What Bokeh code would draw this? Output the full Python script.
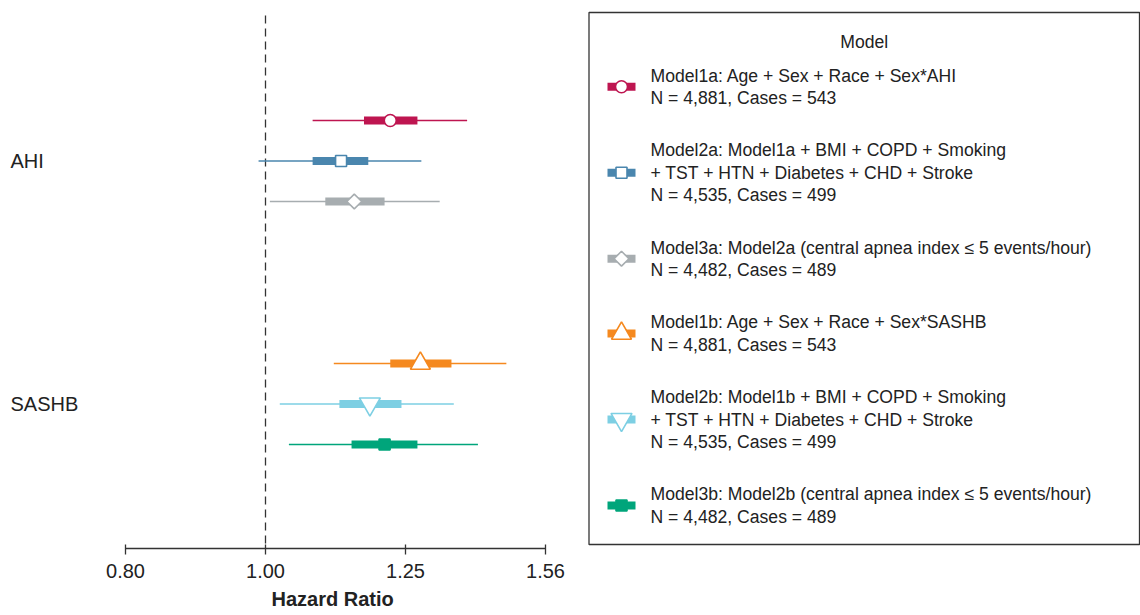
import numpy as np
from bokeh.plotting import figure
from bokeh.layouts import row
from bokeh.models import Range1d, FixedTicker, NumeralTickFormatter, ColumnDataSource, Label, Title
from bokeh.embed import file_html
from bokeh.resources import INLINE
from bokeh.core.properties import value

# ---------------- data ----------------
models = ["Model1a", "Model2a", "Model3a", "Model1b", "Model2b", "Model3b"]
exposures = ["AHI", "SASHB"]
model_exposure = ["AHI", "AHI", "AHI", "SASHB", "SASHB", "SASHB"]
hr = [1.220, 1.128, 1.152, 1.280, 1.181, 1.209]
lo95 = [1.078, 0.989, 1.007, 1.115, 1.023, 1.038]
hi95 = [1.379, 1.282, 1.320, 1.468, 1.350, 1.403]
lo50 = [1.170, 1.078, 1.100, 1.220, 1.125, 1.147]
hi50 = [1.274, 1.178, 1.209, 1.345, 1.242, 1.274]
n_obs = ["4,881", "4,535", "4,482", "4,881", "4,535", "4,482"]
n_cases = [543, 499, 489, 543, 499, 489]
covariate_lines = [
    ["Age + Sex + Race + Sex*AHI"],
    ["Model1a + BMI + COPD + Smoking", "+ TST + HTN + Diabetes + CHD + Stroke"],
    ["Model2a (central apnea index \u2264 5 events/hour)"],
    ["Age + Sex + Race + Sex*SASHB"],
    ["Model1b + BMI + COPD + Smoking", "+ TST + HTN + Diabetes + CHD + Stroke"],
    ["Model2b (central apnea index \u2264 5 events/hour)"],
]
x_ticks = [0.80, 1.00, 1.25, 1.5625]
null_hr = 1.0

# ---------------- styles ----------------
colors = ["#BE1550", "#4A86AE", "#A7ADB0", "#F5891F", "#7DCFE3", "#00A57B"]
marker_types = ["circle", "square", "square", "triangle", "inverted_triangle", "square"]
marker_angles = [0, 0, np.pi / 4, 0, 0, 0]
marker_fills = ["white", "white", "white", "white", "white", "#00A57B"]
marker_sizes = [12, 11, 10.5, 20, 21, 11]
TEXT = "#222222"
FONT = "Liberation Sans"

# rows: 3 per exposure, groups separated by blank rows
within = {}
rows = []
for e in model_exposure:
    k = within.get(e, 0)
    within[e] = k + 1
    rows.append(exposures.index(e) * 6 + k)
group_rows = [exposures.index(e) * 6 + 1 for e in exposures]

src = ColumnDataSource(dict(
    hr=hr, lo95=lo95, hi95=hi95, lo50=lo50, hi50=hi50, y=rows,
    color=colors, marker=marker_types, angle=marker_angles,
    fill=marker_fills, size=marker_sizes,
))

# ---------------- layout constants ----------------
FRAME_BOTTOM, H = 548, 615
ROW0_PX, ROW_PX = 120.0, 40.5

def row_at(px):
    return (px - ROW0_PX) / ROW_PX

# ---------------- main forest plot ----------------
W_MAIN = 585
px_per_step = 140.0  # pixels per factor 1.25
x0 = 1.25 ** (-265 / px_per_step)
x1 = 1.25 ** ((W_MAIN - 265) / px_per_step)

p = figure(width=W_MAIN, height=H, x_axis_type="log",
           x_range=Range1d(x0, x1),
           y_range=Range1d(row_at(FRAME_BOTTOM), row_at(0)),
           output_backend="svg", toolbar_location=None,
           y_axis_location=None,
           min_border_left=0, min_border_right=0,
           min_border_top=0, min_border_bottom=H - FRAME_BOTTOM)
p.xgrid.visible = False
p.ygrid.visible = False
p.outline_line_color = None
p.background_fill_color = "white"
p.border_fill_color = "white"

ax = p.xaxis[0]
ax.ticker = FixedTicker(ticks=x_ticks)
ax.formatter = NumeralTickFormatter(format="0.00")
ax.bounds = (x_ticks[0], x_ticks[-1])
ax.minor_tick_line_color = None
ax.major_tick_out = 6
ax.major_tick_in = 4
ax.axis_line_color = "#333333"
ax.axis_line_width = 1.3
ax.major_tick_line_color = "#333333"
ax.major_tick_line_width = 1.3
ax.major_label_text_font = FONT
ax.major_label_text_font_size = "20px"
ax.major_label_text_color = TEXT
ax.major_label_standoff = 9

# axis title placed under the middle of the axis line (which spans 125..545 px)
p.add_layout(Title(text="Hazard Ratio", align="left", offset=271,
                   text_font=FONT, text_font_size="20px", text_font_style="bold",
                   text_color=TEXT, standoff=10, text_line_height=0.7), "below")

# dashed reference line at HR = 1
p.segment(x0=[null_hr], x1=[null_hr], y0=[row_at(15)], y1=[row_at(FRAME_BOTTOM)],
          line_color="#333333", line_width=1.3, line_dash="8 5")

p.segment(x0="lo95", x1="hi95", y0="y", y1="y", line_color="color",
          line_width=1.6, source=src)
p.segment(x0="lo50", x1="hi50", y0="y", y1="y", line_color="color",
          line_width=8, line_cap="butt", source=src)
p.scatter(x="hr", y="y", marker="marker", size="size", angle="angle",
          fill_color="fill", line_color="color", line_width=1.6, source=src)

for e, gy in zip(exposures, group_rows):
    p.add_layout(Label(x=10, y=gy, x_units="screen", text=e,
                       text_baseline="middle", text_align="left",
                       text_font=FONT, text_font_size="20px", text_color=TEXT))

# ---------------- legend panel (data units = page pixels) ----------------
W_LEG = 1140 - W_MAIN
leg = figure(width=W_LEG, height=H, x_range=Range1d(0, W_LEG),
             y_range=Range1d(FRAME_BOTTOM, 0),
             output_backend="svg", toolbar_location=None,
             x_axis_location=None, y_axis_location=None,
             min_border_left=0, min_border_right=0,
             min_border_top=0, min_border_bottom=H - FRAME_BOTTOM)
leg.xgrid.visible = False
leg.ygrid.visible = False
leg.outline_line_color = None

box_l, box_r, box_t, box_b = 3.5, W_LEG - 1, 12, 544
leg.quad(left=box_l, right=box_r, top=box_t, bottom=box_b,
         fill_color=None, line_color="#333333", line_width=1.3)
leg.text(x=[(box_l + box_r) / 2], y=[41], text=["Model"], text_align="center",
         text_baseline="middle", text_font=value(FONT), text_font_size="17.6px",
         text_color=TEXT)

line_h = 22.4
block_gap = 30.0
y_cur = 75.0
tx, ty, tt = [], [], []
key_y = []
for i, m in enumerate(models):
    lines = [m + ": " + covariate_lines[i][0]] + covariate_lines[i][1:] + \
            ["N = %s, Cases = %d" % (n_obs[i], n_cases[i])]
    ys = []
    for ln in lines:
        tx.append(65)
        ty.append(y_cur)
        tt.append(ln)
        ys.append(y_cur)
        y_cur += line_h
    y_cur += block_gap
    key_y.append(sum(ys) / len(ys))

leg.text(x=tx, y=ty, text=tt, text_align="left", text_baseline="middle",
         text_font=value(FONT), text_font_size="17.6px", text_color=TEXT)

ksrc = ColumnDataSource(dict(
    y=key_y, color=colors, marker=marker_types, angle=marker_angles,
    fill=marker_fills, size=marker_sizes,
    x0=[22] * len(models), x1=[50] * len(models), xc=[36] * len(models),
))
leg.segment(x0="x0", x1="x1", y0="y", y1="y", line_color="color",
            line_width=8, line_cap="butt", source=ksrc)
leg.scatter(x="xc", y="y", marker="marker", size="size", angle="angle",
            fill_color="fill", line_color="color", line_width=1.6, source=ksrc)

layout = row(p, leg)
open("out.html", "w").write(file_html(layout, INLINE))
